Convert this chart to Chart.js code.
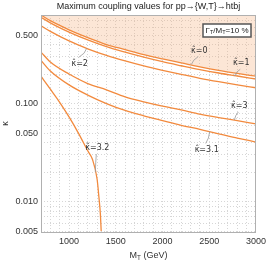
<!DOCTYPE html>
<html>
<head>
<meta charset="utf-8">
<script src="https://cdn.jsdelivr.net/npm/chart.js@4/dist/chart.umd.min.js"></script>
<style>
  html, body { margin: 0; padding: 0; background: #fff; }
</style>
</head>
<body>
<canvas id="chart" width="270" height="263"></canvas>
<script>
// masses (GeV) where the curves were read
var massGrid = [700, 800, 1000, 1200, 1400, 1600, 1800, 2000, 2200, 2400, 2600, 2800, 3000];
var kappaHat0  = [0.80, 0.70, 0.565, 0.47, 0.40, 0.355, 0.315, 0.285, 0.26, 0.237, 0.218, 0.203, 0.19];
var kappaHat1  = [0.76, 0.665, 0.535, 0.445, 0.38, 0.334, 0.297, 0.267, 0.243, 0.222, 0.205, 0.191, 0.178];
var kappaHat2  = [0.62, 0.545, 0.435, 0.362, 0.31, 0.272, 0.242, 0.218, 0.198, 0.181, 0.167, 0.155, 0.145];
var kappaHat3  = [0.335, 0.265, 0.20, 0.16, 0.138, 0.117, 0.104, 0.094, 0.086, 0.078, 0.072, 0.067, 0.062];
var kappaHat31 = [0.275, 0.215, 0.155, 0.122, 0.10, 0.085, 0.075, 0.067, 0.06, 0.0545, 0.049, 0.0445, 0.0405];
// k^=3.2 falls off steeply, own mass points
var massHat32  = [700, 800, 900, 1000, 1100, 1200, 1250, 1300, 1320, 1335, 1344];
var kappaHat32 = [0.19, 0.14, 0.103, 0.073, 0.05, 0.033, 0.027, 0.017, 0.011, 0.0075, 0.005];

var seriesNames = ['κ̂=0', 'κ̂=1', 'κ̂=2', 'κ̂=3', 'κ̂=3.1', 'κ̂=3.2'];

var xTickLabels = [1000, 1500, 2000, 2500, 3000];
var yTickLabels = [0.005, 0.01, 0.05, 0.1, 0.5];
var yGridValues = [0.005, 0.006, 0.007, 0.008, 0.009, 0.01, 0.02, 0.03, 0.04, 0.05, 0.06, 0.07, 0.08, 0.09,
                   0.1, 0.2, 0.3, 0.4, 0.5, 0.6, 0.7, 0.8];

// callout anchors on the curves (mass, kappa)
var calloutMass  = [2308, 2768, 1189, 2768, 2505, 1281];
var calloutKappa = [0.25, 0.19, 0.366, 0.068, 0.052, 0.020];

var ORANGE = '#f28a3e';
var FONT = 'Liberation Sans, Arial, sans-serif';
var TITLE = 'Maximum coupling values for pp→{W,T}→htbj';

function pts(xs, ys) {
  return xs.map(function (x, i) { return { x: x, y: ys[i] }; });
}

function line(label, data, extra) {
  var ds = {
    label: label,
    data: data,
    borderColor: ORANGE,
    borderWidth: 1.3,
    pointRadius: 0,
    cubicInterpolationMode: 'monotone',
    fill: false
  };
  for (var k in extra) ds[k] = extra[k];
  return ds;
}

// text with subscripts: parts = [[text, isSub], ...]
function richText(ctx, parts, x, y, size, align) {
  var w = 0;
  parts.forEach(function (p) {
    ctx.font = (p[1] ? size * 0.7 : size) + 'px ' + FONT;
    w += ctx.measureText(p[0]).width;
  });
  var cx = align === 'center' ? x - w / 2 : x;
  ctx.textAlign = 'left';
  ctx.textBaseline = 'middle';
  parts.forEach(function (p) {
    ctx.font = (p[1] ? size * 0.7 : size) + 'px ' + FONT;
    ctx.fillText(p[0], cx, p[1] ? y + size * 0.28 : y);
    cx += ctx.measureText(p[0]).width;
  });
}

var decorations = {
  id: 'decorations',
  afterDatasetsDraw: function (chart) {
    var ctx = chart.ctx, a = chart.chartArea;
    var xs = chart.scales.x, ys = chart.scales.y;
    ctx.save();
    // frame
    ctx.strokeStyle = '#b0b0b0';
    ctx.lineWidth = 1;
    ctx.strokeRect(Math.round(a.left) + 0.5, Math.round(a.top) + 0.5,
                   Math.round(a.right - a.left) - 1, Math.round(a.bottom - a.top));

    // callouts
    var offsets = [[8, -14], [7, -13], [-7, 16], [5, -14], [-3, 19], [2, -24]];
    for (var i = 0; i < seriesNames.length; i++) {
      var tx = xs.getPixelForValue(calloutMass[i]);
      var ty = ys.getPixelForValue(calloutKappa[i]);
      var lx = tx + offsets[i][0], ly = ty + offsets[i][1];
      var sy = ly + (offsets[i][1] < 0 ? 6 : -7);
      ctx.strokeStyle = '#9a9a9a';
      ctx.lineWidth = 0.8;
      ctx.beginPath();
      ctx.moveTo(lx - 1, sy);
      ctx.quadraticCurveTo(tx + (lx - tx) * 0.2, ty + (sy - ty) * 0.6, tx, ty);
      ctx.stroke();
      ctx.fillStyle = '#333';
      ctx.font = '8px DejaVu Sans, sans-serif';
      ctx.textAlign = 'center';
      ctx.textBaseline = 'middle';
      ctx.fillText(seriesNames[i], lx, ly);
    }

    // width/mass box
    ctx.fillStyle = '#fff';
    ctx.fillRect(203, 24, 48, 13);
    ctx.strokeStyle = '#555';
    ctx.lineWidth = 1.5;
    ctx.strokeRect(203, 24, 48, 13);
    ctx.fillStyle = '#222';
    richText(ctx, [['Γ', 0], ['T', 1], ['/M', 0], ['T', 1], ['=10 %', 0]], 227, 30.5, 8, 'center');

    // title, centred over the plot area
    ctx.fillStyle = '#222';
    ctx.font = '9px ' + FONT;
    ctx.textAlign = 'center';
    ctx.textBaseline = 'middle';
    ctx.fillText(TITLE, (a.left + a.right) / 2, 7);

    // x axis title
    ctx.fillStyle = '#333';
    richText(ctx, [['M', 0], ['T', 1], [' (GeV)', 0]], (a.left + a.right) / 2, 256, 9, 'center');
    ctx.restore();
  }
};

new Chart(document.getElementById('chart'), {
  type: 'line',
  data: {
    datasets: [
      line(seriesNames[0], pts(massGrid, kappaHat0), { fill: 'end', backgroundColor: 'rgba(245,172,118,0.3)' }),
      line(seriesNames[1], pts(massGrid, kappaHat1)),
      line(seriesNames[2], pts(massGrid, kappaHat2)),
      line(seriesNames[3], pts(massGrid, kappaHat3)),
      line(seriesNames[4], pts(massGrid, kappaHat31)),
      line(seriesNames[5], pts(massHat32, kappaHat32))
    ]
  },
  options: {
    responsive: false,
    animation: false,
    devicePixelRatio: 1,
    layout: { padding: { left: 0, right: 10, top: 15, bottom: 0 } },
    plugins: {
      legend: { display: false },
      tooltip: { enabled: false },
      title: { display: false }
    },
    scales: {
      x: {
        type: 'linear',
        min: 700,
        max: 3000,
        afterFit: function (s) { s.height = 31; },
        ticks: {
          stepSize: 100,
          autoSkip: false,
          maxRotation: 0,
          padding: 4,
          color: '#333',
          font: { family: FONT, size: 9 },
          callback: function (v) { return xTickLabels.indexOf(v) >= 0 ? String(v) : ''; }
        },
        grid: { color: '#d6d6d6', drawTicks: false },
        border: { display: false, dash: [1, 2] }
      },
      y: {
        type: 'logarithmic',
        min: 0.0049,
        max: 0.8,
        afterFit: function (s) { s.width = 41; },
        afterBuildTicks: function (s) {
          s.ticks = yGridValues.map(function (v) { return { value: v }; });
        },
        ticks: {
          autoSkip: false,
          padding: 3,
          color: '#333',
          font: { family: FONT, size: 9 },
          callback: function (v) {
            for (var i = 0; i < yTickLabels.length; i++) {
              if (Math.abs(v - yTickLabels[i]) < 1e-9) return yTickLabels[i].toFixed(3);
            }
            return '';
          }
        },
        title: {
          display: true,
          text: 'κ',
          color: '#333',
          font: { family: FONT, size: 9 },
          padding: 0
        },
        grid: { color: '#d6d6d6', drawTicks: false },
        border: { display: false, dash: [1, 2] }
      }
    }
  },
  plugins: [decorations]
});
</script>
</body>
</html>
